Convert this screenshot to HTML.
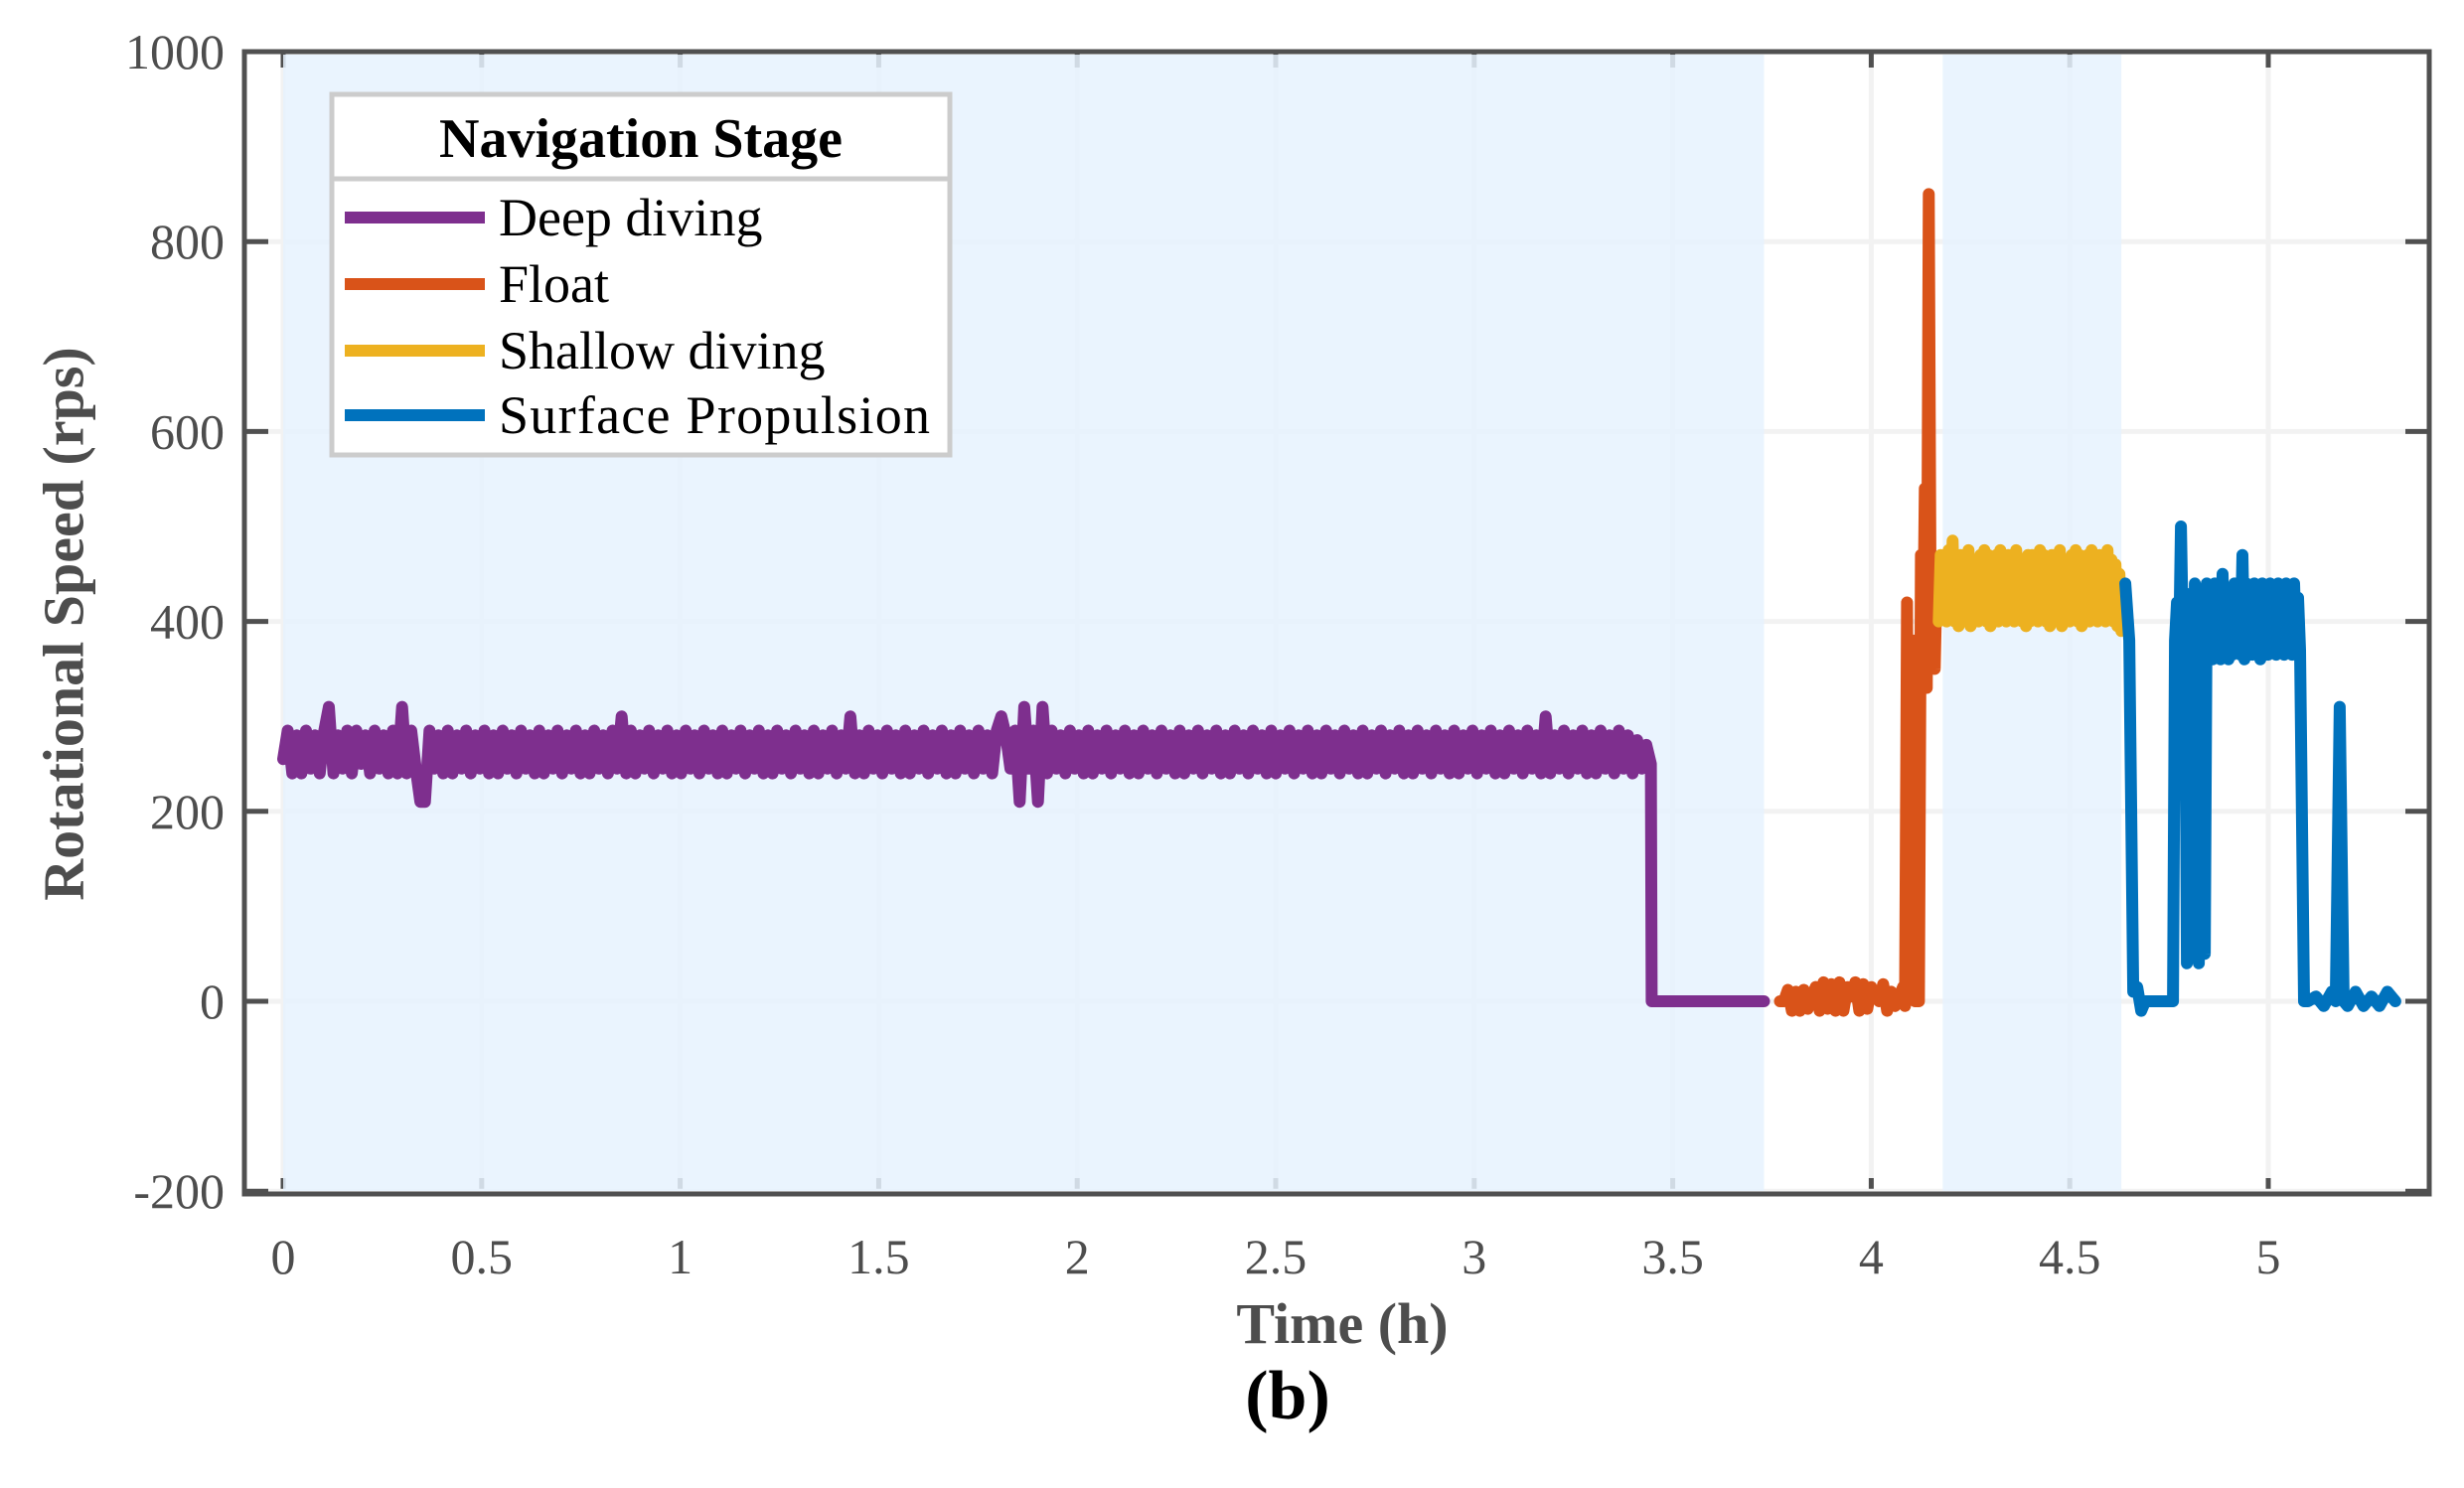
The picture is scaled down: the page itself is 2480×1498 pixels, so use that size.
<!DOCTYPE html>
<html><head><meta charset="utf-8"><style>
body{margin:0;background:#fff;}
svg{display:block;font-family:"Liberation Serif",serif;}
</style></head><body>
<svg id="chart" width="2480" height="1498" viewBox="0 0 2480 1498">
<g id="grid"></g><g id="shade"></g><g id="series"></g><g id="axes"></g><g id="legend"></g>
<text x="64" y="628" transform="rotate(-90 64 628)" text-anchor="middle" dominant-baseline="central" font-size="58" font-weight="bold" fill="#4d4d4d">Rotational Speed (rps)</text>
<text x="1351" y="1352" text-anchor="middle" font-size="58" font-weight="bold" fill="#4d4d4d">Time (h)</text>
<text x="1296" y="1428" text-anchor="middle" font-size="70" font-weight="bold" fill="#000">(b)</text>
</svg>
<script>
const xTicks=[0,0.5,1,1.5,2,2.5,3,3.5,4,4.5,5];
const xTickLabels=["0","0.5","1","1.5","2","2.5","3","3.5","4","4.5","5"];
const yTicks=[-200,0,200,400,600,800,1000];
const yTickLabels=["-200","0","200","400","600","800","1000"];
const shadeRanges=[[0,3.73],[4.18,4.63]];
const stageNames=["Deep diving","Float","Shallow diving","Surface Propulsion"];
const stageColors=["#7e2f8e","#d95319","#edb120","#0072bd"];
// Deep diving: uniform sampling from t=0 to deepEnd
const deepEnd=3.445;
const deepValues=[
255,285,240,280,240,285,245,280,240,285,310,240,280,245,285,240,285,250,280,240,
285,245,280,240,285,240,310,240,285,245,210,210,285,245,280,240,285,240,280,245,
285,240,280,245,285,240,280,240,285,245,280,240,285,245,280,240,285,240,280,245,
285,240,280,245,285,240,280,240,285,245,280,240,285,245,300,240,285,240,280,245,
285,240,280,245,285,240,280,240,285,245,280,240,285,245,280,240,285,240,280,245,
285,240,280,245,285,240,280,240,285,245,280,240,285,245,280,240,285,240,280,245,
285,240,280,245,300,240,280,240,285,245,280,240,285,245,280,240,285,240,280,245,
285,240,280,245,285,240,280,240,285,245,280,240,285,245,280,240,285,300,280,245,
285,210,310,245,285,210,310,240,285,245,280,240,285,245,280,240,285,240,280,245,
285,240,280,245,285,240,280,240,285,245,280,240,285,245,280,240,285,240,280,245,
285,240,280,245,285,240,280,240,285,245,280,240,285,245,280,240,285,240,280,245,
285,240,280,245,285,240,280,240,285,245,280,240,285,245,280,240,285,240,280,245,
285,240,280,245,285,240,280,240,285,245,280,240,285,245,280,240,285,240,280,245,
285,240,280,245,285,240,280,240,285,245,280,240,285,245,280,240,300,240,280,245,
285,240,280,245,285,240,280,240,285,245,280,240,285,245,280,240,275,245,270,250];
const deepTail=[[3.447,0],[3.73,0]];
const floatTimes=[3.77,3.78,3.79,3.80,3.81,3.82,3.83,3.84,3.85,3.86,3.87,3.88,3.89,3.90,3.91,3.92,3.93,3.94,3.95,3.96,3.97,3.98,3.99,4.00,4.01,4.02,4.03,4.04,4.05,4.06,4.07,4.08,4.085,4.09,4.095,4.10,4.105,4.11,4.12,4.125,4.13,4.135,4.14,4.145,4.15,4.155,4.16,4.165,4.17];
const floatValues=[0,0,12,-10,10,-10,12,-8,5,15,-10,20,-8,18,-10,20,-10,15,5,20,-10,18,-8,15,5,0,18,-10,10,-5,5,15,-5,420,10,5,380,0,0,470,340,540,330,850,380,460,350,450,400];
const shallowTimes=[4.17,4.175,4.18,4.185,4.19,4.195,4.20,4.205,4.21,4.215,4.22,4.225,4.23,4.235,4.24,4.245,4.25,4.255,4.26,4.265,4.27,4.275,4.28,4.285,4.29,4.295,4.30,4.305,4.31,4.315,4.32,4.325,4.33,4.335,4.34,4.345,4.35,4.355,4.36,4.365,4.37,4.375,4.38,4.385,4.39,4.395,4.40,4.405,4.41,4.415,4.42,4.425,4.43,4.435,4.44,4.445,4.45,4.455,4.46,4.465,4.47,4.475,4.48,4.485,4.49,4.495,4.50,4.505,4.51,4.515,4.52,4.525,4.53,4.535,4.54,4.545,4.55,4.555,4.56,4.565,4.57,4.575,4.58,4.585,4.59,4.595,4.60,4.605,4.61,4.615,4.62,4.625,4.63];
const shallowValues=[400,470,405,465,400,475,410,485,400,465,395,470,405,460,400,475,395,465,405,460,400,470,405,475,400,470,395,465,410,470,400,475,405,460,400,470,410,465,400,475,405,465,400,460,395,470,400,470,405,465,400,475,410,470,400,465,395,470,405,460,400,475,395,465,405,460,400,470,405,475,400,470,395,465,410,470,400,475,405,460,400,470,410,465,400,475,405,465,400,460,395,450,390];
const surfaceTimes=[4.64,4.65,4.66,4.67,4.68,4.69,4.70,4.72,4.74,4.76,4.765,4.77,4.775,4.78,4.785,4.79,4.795,4.80,4.805,4.81,4.815,4.82,4.825,4.83,4.835,4.84,4.845,4.85,4.855,4.86,4.865,4.87,4.875,4.88,4.885,4.89,4.895,4.90,4.905,4.91,4.915,4.92,4.925,4.93,4.935,4.94,4.945,4.95,4.955,4.96,4.965,4.97,4.975,4.98,4.985,4.99,4.995,5.00,5.005,5.01,5.015,5.02,5.025,5.03,5.035,5.04,5.045,5.05,5.055,5.06,5.065,5.07,5.075,5.08,5.09,5.10,5.12,5.14,5.16,5.17,5.18,5.19,5.20,5.22,5.24,5.26,5.28,5.30,5.32];
const surfaceValues=[440,380,10,15,-10,0,0,0,0,0,380,420,360,500,380,430,40,420,360,60,440,370,40,430,360,50,440,370,430,360,440,370,420,360,450,370,430,360,420,365,440,370,430,365,470,360,440,370,430,365,440,370,430,360,440,370,420,365,440,370,430,365,440,370,430,365,440,370,430,365,440,370,425,370,0,0,5,-5,10,0,310,0,-5,10,-5,5,-5,10,0];

const L=246,R=2445,T=52,B=1202;
const x0=285,xPerH=399.6,y0=1008,yPer=191.2/200;
const X=t=>x0+t*xPerH, Y=v=>y0-v*yPer;
const NS="http://www.w3.org/2000/svg";
function mk(tag,attrs,parent){const e=document.createElementNS(NS,tag);for(const k in attrs)e.setAttribute(k,attrs[k]);parent.appendChild(e);return e;}
const grid=document.getElementById('grid'),shade=document.getElementById('shade'),series=document.getElementById('series'),axes=document.getElementById('axes'),legend=document.getElementById('legend');

xTicks.forEach(t=>{const g=mk('line',{x1:X(t),x2:X(t),y1:T,y2:B,stroke:'#f2f2f2','stroke-width':5},grid);


[[B,B-16],[T,T+16]].forEach(p=>{const k=mk('line',{x1:X(t),x2:X(t),y1:p[0],y2:p[1],stroke:'#505050','stroke-width':5},grid);

});});
yTicks.forEach((v,i)=>{const g=mk('line',{x1:L,x2:R,y1:Y(v),y2:Y(v),stroke:'#f2f2f2','stroke-width':5},grid);


[[L,L+24],[R,R-24]].forEach(p=>{const k=mk('line',{x1:p[0],x2:p[1],y1:Y(v),y2:Y(v),stroke:'#505050','stroke-width':5},grid);

});
const tl=mk('text',{x:L-20,y:Y(v),'text-anchor':'end','dominant-baseline':'central','font-size':50,fill:'#4d4d4d'},axes);tl.textContent=yTickLabels[i];

});
xTicks.forEach((t,i)=>{const tl=mk('text',{x:X(t),y:1282,'text-anchor':'middle','font-size':50,fill:'#4d4d4d'},axes);tl.textContent=xTickLabels[i];

});

shadeRanges.forEach(r=>{const s=mk('rect',{x:X(r[0]),y:T+3,width:X(r[1])-X(r[0]),height:B-T-6,fill:'#e6f2fe','fill-opacity':0.85},shade);

});

function path(pts,color,name){const d=pts.map((p,i)=>(i?'L':'M')+X(p[0]).toFixed(1)+' '+Y(p[1]).toFixed(1)).join(' ');
const e=mk('path',{d:d,fill:'none',stroke:color,'stroke-width':12,'stroke-linejoin':'round','stroke-linecap':'round'},series);

}
const deepPts=deepValues.map((v,i)=>[i*deepEnd/(deepValues.length-1),v]).concat(deepTail);
path(deepPts,stageColors[0],'deep-diving-line');
path(floatTimes.map((t,i)=>[t,floatValues[i]]),stageColors[1],'float-line');
path(shallowTimes.map((t,i)=>[t,shallowValues[i]]),stageColors[2],'shallow-diving-line');
path(surfaceTimes.map((t,i)=>[t,surfaceValues[i]]),stageColors[3],'surface-propulsion-line');

const fr=mk('rect',{x:L,y:T,width:R-L,height:B-T,fill:'none',stroke:'#505050','stroke-width':5},axes);



const lb=mk('rect',{x:334,y:95,width:622,height:363,fill:'#fff',stroke:'#cccccc','stroke-width':5},legend);


const dv=mk('line',{x1:334,x2:956,y1:180,y2:180,stroke:'#cccccc','stroke-width':5},legend);


const lt=mk('text',{x:645,y:158,'text-anchor':'middle','font-size':56,'font-weight':'bold',fill:'#000'},legend);lt.textContent='Navigation Stage';


const rowsY=[219,286,353,418];
stageNames.forEach((n,i)=>{const g=mk('g',{},legend);


mk('line',{x1:347,x2:488,y1:rowsY[i],y2:rowsY[i],stroke:stageColors[i],'stroke-width':12},g);
const t=mk('text',{x:502,y:rowsY[i]+18,'font-size':54,fill:'#000',textLength:i==3?434:null},g);
if(i!==3)t.removeAttribute('textLength');
t.textContent=n;});
</script>
</body></html>
